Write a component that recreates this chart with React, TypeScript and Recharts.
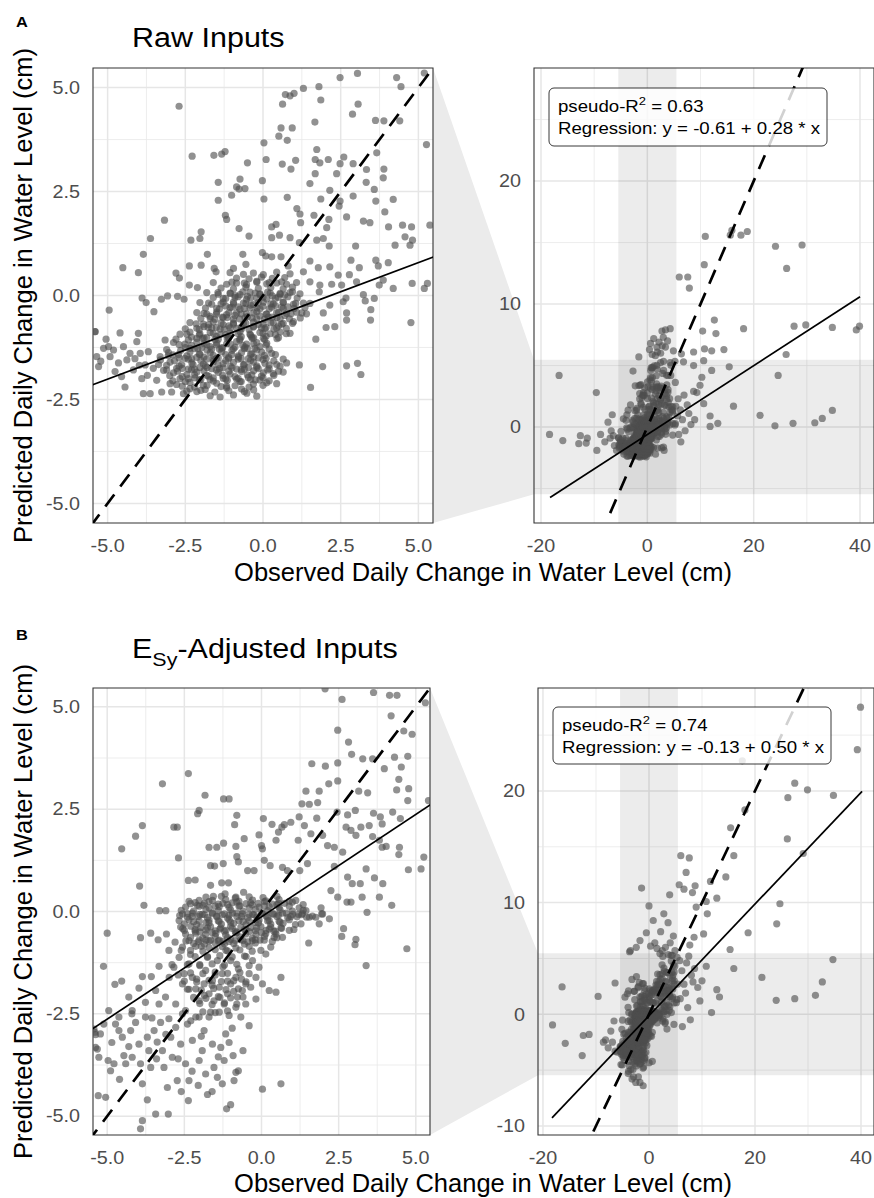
import React from 'react';
import { ScatterChart, Scatter, XAxis, YAxis, CartesianGrid, ReferenceArea } from 'recharts';

type Pair = [number, number];

// ---------------- DATA ----------------
// Row A (raw inputs): [observed, predicted] pairs inside the ±5.47 zoom window
const rawSparse: Pair[] = [
  [-2.70,4.55],[2.48,5.24],[3.04,5.34],[4.30,5.24],[5.19,5.35],[4.44,5.02],[5.26,3.63],[1.30,4.98],[1.80,5.02],[0.72,4.83],
  [0.87,4.80],[1.00,4.86],[0.63,4.60],[1.86,4.70],[3.06,4.60],[2.88,4.36],[3.62,4.21],[3.89,4.20],[4.40,4.20],[1.67,4.17],
  [0.58,4.03],[0.94,4.03],[0.51,3.83],[0.78,3.73],[0.03,3.67],[3.66,3.43],[-2.28,3.35],[-1.58,3.37],[-1.33,3.40],[-1.22,3.46],
  [1.73,3.51],[1.68,3.27],[1.83,3.19],[2.10,3.27],[2.60,3.33],[2.90,3.17],[0.10,3.27],[-0.50,3.19],[1.05,3.25],[0.62,3.16],
  [0.90,3.04],[2.48,3.17],[3.33,3.03],[3.89,3.04],[1.68,2.93],[2.37,2.93],[3.87,2.83],[-0.74,2.80],[-1.44,2.72],[-0.02,2.76],
  [-0.85,2.61],[-0.77,2.56],[-0.58,2.57],[1.51,2.69],[3.32,2.72],[2.15,2.53],[3.58,2.55],[-1.44,2.29],[-1.01,2.41],[0.03,2.32],
  [0.78,2.36],[1.86,2.32],[2.90,2.39],[3.63,2.27],[4.19,2.31],[2.48,2.27],[1.09,2.09],[2.45,2.15],[3.92,2.01],[-1.21,1.93],
  [-1.17,1.83],[-3.17,1.81],[-0.77,1.61],[-0.45,1.43],[1.19,1.96],[1.64,1.93],[2.12,1.83],[2.69,1.89],[3.23,1.79],[3.44,1.75],
  [1.21,1.75],[0.28,1.65],[0.42,1.71],[2.05,1.63],[4.04,1.65],[4.49,1.69],[4.78,1.65],[5.37,1.69],[-3.62,1.37],[-1.99,1.53],
  [-2.03,1.37],[-2.32,1.33],[0.53,1.45],[0.87,1.39],[0.28,1.39],[1.17,1.27],[1.73,1.33],[1.94,1.37],[2.13,1.19],[2.98,1.19],
  [4.25,1.21],[4.57,1.41],[4.81,1.33],[4.73,1.21],[-3.85,0.99],[-4.51,0.67],[-4.01,0.55],[-1.79,0.99],[-2.37,0.71],[-1.99,0.73],
  [-2.80,0.54],[-2.69,0.42],[-1.57,0.65],[-1.51,0.57],[-0.95,0.65],[-0.65,0.99],[-0.55,0.75],[-0.02,1.03],[0.09,0.95],[0.28,0.93],
  [0.58,0.93],[0.81,0.71],[1.51,0.83],[1.78,0.67],[2.15,0.69],[2.83,0.85],[2.42,0.49],[2.78,0.50],[3.10,0.67],[3.63,0.85],
  [3.71,0.71],[4.03,0.79],[1.30,0.57],[1.51,0.33],[1.83,0.25],[2.21,0.27],[2.53,0.25],[3.01,0.33],[3.87,0.37],[3.74,0.25],
  [4.19,0.17],[4.80,0.29],[5.19,0.17],[5.29,0.29],[3.23,0.02],[3.58,-0.07],[3.29,-0.13],[2.67,-0.06],[2.58,-0.15],[1.81,0.09],
  [1.51,-0.19],[2.15,-0.23],[1.94,-0.42],[2.69,-0.42],[3.47,-0.34],[2.69,-0.59],[3.46,-0.59],[4.76,-0.65],[2.03,-0.77],[2.31,-0.75],
  [1.70,-1.05],[1.17,-1.67],[1.92,-1.71],[2.69,-1.69],[3.04,-1.63],[3.15,-1.90],[1.53,-2.21],[-4.95,-0.35],[-3.89,-0.06],[-3.76,-0.17],
  [-3.51,-0.39],[-3.27,-0.09],[-3.07,-0.01],[-2.75,-0.02],[-2.54,-0.09],[-2.37,0.25],[-2.11,0.19],[-5.41,-0.87],[-4.60,-0.90],
];

const rawTail: Pair[] = [
  [-5.40,-0.87],[-5.35,-1.47],[-5.29,-1.71],[-5.13,-1.27],[-4.97,-1.23],[-4.92,-1.47],[-4.81,-1.31],[-4.76,-1.83],[-4.49,-1.23],[-4.44,-2.20],
  [-4.38,-1.55],[-4.28,-1.39],[-4.17,-1.79],[-4.06,-1.11],[-4.01,-0.91],[-3.95,-1.39],[-3.90,-2.00],[-3.85,-2.36],[-3.79,-1.67],[-3.69,-1.35],
  [-3.63,-2.36],[-3.53,-1.75],[-3.42,-2.04],[-3.31,-1.47],[-3.26,-2.32],[-3.15,-1.07],[-3.10,-1.79],[-2.99,-2.12],[-2.94,-2.32],
  [-5.22,-1.58],[-4.65,-1.62],[-4.12,-1.52],[-3.72,-1.92],[-3.36,-1.66],[-3.05,-1.45],[-5.05,-1.05],[-4.55,-1.95],[-3.98,-1.68],
];

const rawCore: Pair[] = [
  [-2.56,-2.36],[-2.13,-2.31],[-1.70,-2.41],[-1.38,-2.44],[-0.95,-2.39],[-0.52,-2.35],[-0.20,-2.42],
  [-2.78,-2.14],[-2.35,-2.09],[-1.92,-2.16],[-1.49,-2.11],[-1.17,-2.18],[-0.74,-2.07],[-0.31,-2.13],[0.12,-2.10],[0.44,-2.12],
  [-2.88,-1.86],[-2.45,-1.90],[-2.13,-1.84],[-1.81,-1.92],[-1.44,-1.85],[-1.06,-1.89],[-0.69,-1.83],[-0.36,-1.91],[0.01,-1.86],[0.33,-1.88],[0.65,-1.84],
  [-2.99,-1.60],[-2.62,-1.66],[-2.29,-1.62],[-1.92,-1.65],[-1.60,-1.59],[-1.28,-1.64],[-0.95,-1.61],[-0.63,-1.67],[-0.31,-1.60],[0.06,-1.63],[0.44,-1.66],[0.76,-1.62],
  [-3.04,-1.37],[-2.72,-1.42],[-2.35,-1.36],[-2.03,-1.41],[-1.70,-1.38],[-1.33,-1.35],[-1.01,-1.42],[-0.69,-1.37],[-0.36,-1.40],[-0.04,-1.36],[0.28,-1.39],
  [-2.88,-1.13],[-2.51,-1.17],[-2.13,-1.12],[-1.81,-1.18],[-1.49,-1.14],[-1.17,-1.16],[-0.85,-1.11],[-0.53,-1.17],[-0.20,-1.13],[0.12,-1.15],
  [-2.67,-0.93],[-2.35,-0.88],[-2.03,-0.92],[-1.70,-0.89],[-1.38,-0.94],[-1.06,-0.90],[-0.74,-0.87],[-0.42,-0.93],[-0.10,-0.89],[0.23,-0.92],[0.55,-0.88],[0.87,-0.91],
  [-2.35,-0.65],[-1.92,-0.69],[-1.60,-0.64],[-1.28,-0.70],[-0.95,-0.66],[-0.63,-0.68],[-0.31,-0.64],[0.01,-0.69],[0.33,-0.65],[0.65,-0.67],[0.98,-0.63],
  [-2.13,-0.41],[-1.81,-0.45],[-1.49,-0.40],[-1.17,-0.46],[-0.85,-0.42],[-0.53,-0.44],[-0.20,-0.39],[0.12,-0.45],[0.44,-0.41],[0.76,-0.43],[1.08,-0.40],[1.40,-0.44],
  [-2.03,-0.17],[-1.65,-0.21],[-1.28,-0.16],[-0.95,-0.20],[-0.63,-0.18],[-0.31,-0.22],[0.01,-0.16],[0.33,-0.20],[0.65,-0.17],[0.98,-0.21],[1.30,-0.18],
  [-1.81,0.07],[-1.44,0.03],[-1.06,0.06],[-0.74,0.02],[-0.42,0.08],[-0.10,0.04],[0.23,0.06],[0.55,0.03],[0.87,0.07],[1.19,0.04],
  [-1.60,0.31],[-1.17,0.27],[-0.85,0.30],[-0.53,0.26],[-0.20,0.32],[0.12,0.28],[0.44,0.30],[0.76,0.27],[1.08,0.31],
  [-1.06,0.55],[-0.63,0.51],[-0.31,0.54],[0.01,0.50],[0.44,0.56],[0.87,0.52],
  [-2.35,-2.24],[-1.86,-2.26],[-1.17,-2.22],[-0.69,-2.25],
  [-2.67,-2.00],[-2.19,-1.98],[-1.70,-2.02],[-1.28,-1.99],[-0.85,-2.01],[-0.47,-1.97],[-0.10,-2.03],
  [-2.78,-1.75],[-2.40,-1.77],[-2.03,-1.73],[-1.65,-1.76],[-1.28,-1.74],[-0.85,-1.77],[-0.47,-1.73],[-0.15,-1.76],
  [-2.51,-1.51],[-2.13,-1.49],[-1.81,-1.53],[-1.44,-1.50],[-1.11,-1.52],[-0.79,-1.48],[-0.47,-1.52],[-0.15,-1.50],
  [-2.35,-1.27],[-1.97,-1.25],[-1.65,-1.29],[-1.33,-1.26],[-0.95,-1.28],[-0.58,-1.24],[-0.26,-1.27],
  [-2.13,-1.03],[-1.81,-1.01],[-1.44,-1.05],[-1.11,-1.02],[-0.74,-1.04],[-0.36,-1.00],[0.01,-1.03],
  [-2.13,-0.79],[-1.76,-0.77],[-1.38,-0.81],[-1.06,-0.78],[-0.69,-0.80],[-0.31,-0.76],[0.06,-0.80],[0.44,-0.78],
  [-1.70,-0.55],[-1.28,-0.53],[-0.95,-0.57],[-0.58,-0.54],[-0.20,-0.56],[0.17,-0.52],[0.55,-0.56],
  [-1.49,-0.31],[-1.06,-0.29],[-0.74,-0.33],[-0.42,-0.30],[-0.10,-0.32],[0.28,-0.28],[0.65,-0.31],
  [-1.28,-0.07],[-0.90,-0.05],[-0.53,-0.09],[-0.20,-0.06],[0.12,-0.08],[0.49,-0.04],
];

const rawCoreExtra: Pair[] = [
  [-2.45,-2.30],[-2.00,-2.28],[-1.55,-2.32],[-1.10,-2.29],[-0.60,-2.31],[-0.30,-2.27],
  [-2.90,-2.05],[-2.50,-2.07],[-2.05,-2.03],[-1.60,-2.06],[-1.15,-2.04],[-0.70,-2.07],[-0.25,-2.03],[0.20,-2.05],
  [-3.20,-1.80],[-2.75,-1.82],[-2.30,-1.78],[-1.90,-1.81],[-1.50,-1.79],[-1.10,-1.82],[-0.70,-1.78],[-0.30,-1.81],[0.15,-1.79],[0.50,-1.82],
  [-3.30,-1.55],[-2.85,-1.57],[-2.40,-1.53],[-2.00,-1.56],[-1.60,-1.54],[-1.20,-1.57],[-0.80,-1.53],[-0.40,-1.56],[0.00,-1.54],[0.35,-1.57],[0.65,-1.53],
  [-3.10,-1.30],[-2.65,-1.32],[-2.20,-1.28],[-1.80,-1.31],[-1.40,-1.29],[-1.00,-1.32],[-0.60,-1.28],[-0.20,-1.31],[0.20,-1.29],
  [-2.80,-1.05],[-2.40,-1.07],[-1.95,-1.03],[-1.55,-1.06],[-1.15,-1.04],[-0.75,-1.07],[-0.35,-1.03],[0.05,-1.06],[0.45,-1.04],
  [-2.50,-0.80],[-2.05,-0.82],[-1.65,-0.78],[-1.25,-0.81],[-0.85,-0.79],[-0.45,-0.82],[-0.05,-0.78],[0.35,-0.81],[0.75,-0.79],
  [-2.00,-0.55],[-1.55,-0.57],[-1.15,-0.53],[-0.75,-0.56],[-0.35,-0.54],[0.05,-0.57],[0.45,-0.53],[0.85,-0.56],[1.20,-0.54],
  [-1.85,-0.30],[-1.40,-0.32],[-1.00,-0.28],[-0.60,-0.31],[-0.20,-0.29],[0.20,-0.32],[0.60,-0.28],[1.00,-0.31],[1.35,-0.29],
  [-1.60,-0.05],[-1.20,-0.07],[-0.80,-0.03],[-0.40,-0.06],[0.00,-0.04],[0.40,-0.07],[0.80,-0.03],[1.10,-0.06],
  [-1.35,0.18],[-0.95,0.16],[-0.55,0.20],[-0.15,0.17],[0.25,0.19],[0.65,0.16],[0.95,0.20],
  [-0.85,0.42],[-0.45,0.40],[-0.05,0.44],[0.30,0.41],[0.70,0.43],
];

const rawCoreFill: Pair[] = [
  [-2.60,-2.18],[-2.20,-2.20],[-1.80,-2.16],[-1.35,-2.19],[-0.90,-2.17],[-0.45,-2.20],[0.00,-2.16],
  [-3.00,-1.93],[-2.60,-1.95],[-2.20,-1.91],[-1.75,-1.94],[-1.30,-1.92],[-0.90,-1.95],[-0.50,-1.91],[-0.05,-1.94],[0.35,-1.92],
  [-3.10,-1.68],[-2.70,-1.70],[-2.25,-1.66],[-1.85,-1.69],[-1.45,-1.67],[-1.05,-1.70],[-0.60,-1.66],[-0.20,-1.69],[0.20,-1.67],[0.55,-1.70],
  [-2.90,-1.43],[-2.45,-1.45],[-2.05,-1.41],[-1.60,-1.44],[-1.20,-1.42],[-0.80,-1.45],[-0.40,-1.41],[0.05,-1.44],[0.40,-1.42],
  [-2.70,-1.18],[-2.30,-1.20],[-1.90,-1.16],[-1.50,-1.19],[-1.05,-1.17],[-0.65,-1.20],[-0.30,-1.16],[0.10,-1.19],
  [-2.45,-0.93],[-2.05,-0.95],[-1.60,-0.91],[-1.20,-0.94],[-0.80,-0.92],[-0.40,-0.95],[0.00,-0.91],[0.40,-0.94],[0.75,-0.92],
  [-2.15,-0.68],[-1.75,-0.70],[-1.35,-0.66],[-0.95,-0.69],[-0.55,-0.67],[-0.15,-0.70],[0.25,-0.66],[0.60,-0.69],[0.95,-0.67],
  [-1.90,-0.43],[-1.50,-0.45],[-1.10,-0.41],[-0.70,-0.44],[-0.30,-0.42],[0.10,-0.45],[0.50,-0.41],[0.90,-0.44],[1.25,-0.42],
  [-1.75,-0.18],[-1.35,-0.20],[-0.95,-0.16],[-0.55,-0.19],[-0.15,-0.17],[0.25,-0.20],[0.65,-0.16],[1.05,-0.19],
  [-1.45,0.07],[-1.05,0.05],[-0.65,0.09],[-0.25,0.06],[0.15,0.08],[0.55,0.05],[0.95,0.09],
  [-1.00,0.32],[-0.60,0.30],[-0.20,0.34],[0.20,0.31],[0.60,0.33],
];

const rawCoreDense: Pair[] = [
  [-2.40,-2.00],[-2.00,-2.02],[-1.60,-1.98],[-1.20,-2.01],[-0.80,-1.99],[-0.40,-2.02],[0.00,-1.98],
  [-2.60,-1.75],[-2.20,-1.77],[-1.80,-1.73],[-1.40,-1.76],[-1.00,-1.74],[-0.60,-1.77],[-0.20,-1.73],[0.20,-1.76],
  [-2.70,-1.50],[-2.30,-1.52],[-1.90,-1.48],[-1.50,-1.51],[-1.10,-1.49],[-0.70,-1.52],[-0.30,-1.48],[0.10,-1.51],
  [-2.50,-1.25],[-2.10,-1.27],[-1.70,-1.23],[-1.30,-1.26],[-0.90,-1.24],[-0.50,-1.27],[-0.10,-1.23],
  [-2.30,-1.00],[-1.90,-1.02],[-1.50,-0.98],[-1.10,-1.01],[-0.70,-0.99],[-0.30,-1.02],[0.10,-0.98],[0.50,-1.01],
  [-1.90,-0.75],[-1.50,-0.77],[-1.10,-0.73],[-0.70,-0.76],[-0.30,-0.74],[0.10,-0.77],[0.50,-0.73],
  [-1.70,-0.50],[-1.30,-0.52],[-0.90,-0.48],[-0.50,-0.51],[-0.10,-0.49],[0.30,-0.52],[0.70,-0.48],
  [-1.20,-0.25],[-0.80,-0.27],[-0.40,-0.23],[0.00,-0.26],[0.40,-0.24],[0.80,-0.27],
  [-0.90,0.00],[-0.50,-0.02],[-0.10,0.02],[0.30,-0.01],[0.70,0.01],
];

// Row A points outside the zoom window (only visible in the full-range panel)
const rawOuter: Pair[] = [
  [10.9,15.5],[15.9,16.0],[15.6,15.6],[17.6,15.6],[18.8,15.9],[24.1,14.7],[29.1,14.8],[26.2,12.9],[10.7,13.2],[6.0,12.2],
  [7.6,12.2],[7.9,11.3],[12.6,8.7],[10.4,7.8],[12.9,7.6],[18.1,8.0],[27.6,8.2],[29.8,8.3],[34.8,8.1],[39.3,7.9],
  [39.9,8.2],[2.75,7.8],[3.4,7.9],[4.3,8.0],[1.8,6.5],[3.4,6.5],[4.9,6.2],[10.75,6.35],[12.1,6.2],[14.4,6.3],
  [8.7,6.1],[26.1,5.9],[-1.6,5.7],[1.5,5.8],[6.4,5.95],[6.8,5.3],[10.6,5.4],[8.7,5.0],[12.1,4.6],[15.4,4.9],
  [10.25,4.05],[9.9,3.4],[24.6,4.2],[8.7,2.9],[9.3,2.8],[16.2,1.7],[21.2,0.95],[24.0,0.1],[27.4,0.3],[31.5,0.35],
  [32.9,0.7],[34.8,1.35],[11.8,0.9],[13.25,0.3],[11.8,0.05],[10.6,1.9],[-16.6,4.2],[-18.4,-0.6],[-15.9,-1.1],[-12.6,-0.7],
  [-11.3,-0.9],[-12.9,-1.35],[-11.5,-1.3],[-9.6,2.8],[-9.5,-1.9],[-8.8,-0.6],[-7.4,0.4],[-6.6,1.0],
  [0.6,6.8],[1.2,7.2],[2.2,6.9],[2.5,6.0],[3.0,7.3],[0.9,5.9],[1.9,6.1],[3.8,7.0],[0.4,6.3],[2.8,6.6],
  [5.8,2.3],[6.2,1.4],[6.6,0.6],[7.1,-0.3],[5.9,-0.6],[7.5,1.8],[8.2,0.2],[6.9,2.6],[5.7,0.9],[6.3,-1.2],[7.8,1.1],[8.9,0.6],
  [-7.0,-0.9],[-6.2,-1.5],[-8.0,-1.2],[-6.8,-0.3],[-5.8,-1.9],[-6.4,-0.7],
];

// Row B (ESy-adjusted inputs)
const esySparse: Pair[] = [
  [2.06,5.44],[2.61,5.18],[3.63,5.35],[4.15,5.28],[4.39,5.28],[5.31,5.10],[4.20,4.78],[2.47,4.43],[4.61,4.41],[4.88,4.33],
  [2.82,4.14],[2.92,3.84],[3.28,3.73],[3.60,3.73],[4.31,3.77],[4.74,3.79],[1.63,3.61],[2.07,3.55],[2.47,3.63],[3.98,3.49],
  [4.53,3.53],[-2.37,3.37],[-3.21,3.12],[2.18,3.12],[2.47,3.19],[4.45,3.23],[1.44,2.94],[1.87,2.94],[3.15,2.94],[3.44,2.90],
  [4.38,2.97],[4.77,3.00],[-1.83,2.84],[-1.23,2.75],[-1.05,2.75],[4.74,2.71],[1.31,2.63],[1.55,2.62],[1.82,2.66],[-2.02,2.47],
  [-2.07,2.39],[-0.80,2.35],[2.45,2.43],[2.79,2.36],[3.04,2.47],[3.63,2.40],[3.85,2.31],[4.25,2.43],[5.41,2.71],[4.50,2.27],
  [1.79,2.28],[1.22,2.31],[0.06,2.27],[0.34,2.13],[0.66,2.06],[0.74,2.12],[0.95,2.18],[-3.86,2.10],[-4.08,1.84],[-2.84,2.06],
  [-2.73,2.06],[-0.87,2.12],[2.74,2.06],[2.90,1.98],[3.22,2.06],[3.49,2.10],[3.91,2.14],[3.06,1.86],[3.60,1.83],[3.82,1.74],
  [3.91,1.57],[4.04,1.59],[1.39,2.10],[1.60,1.90],[1.98,1.86],[2.14,1.61],[2.36,1.57],[1.19,1.74],[0.55,1.94],[0.47,1.74],
  [-0.08,1.87],[0.00,1.61],[0.03,1.53],[-0.56,1.78],[-4.53,1.53],[-2.69,1.31],[-1.70,1.57],[-1.45,1.57],[-1.23,1.67],[-0.83,1.59],
  [-0.80,1.34],[-1.65,1.12],[-1.52,1.11],[-1.24,1.17],[-0.75,1.21],[-0.45,1.00],[-0.24,1.00],[0.09,1.25],[0.28,1.12],[0.68,1.08],
  [0.84,1.00],[1.24,1.00],[1.49,1.17],[2.36,1.10],[2.63,1.45],[3.39,1.04],[3.66,0.82],[3.93,0.68],[4.47,1.57],[4.45,1.39],
  [5.26,1.33],[4.76,1.02],[5.17,1.04],[2.79,0.84],[2.94,0.68],[3.20,0.68],[2.25,0.51],[2.47,0.35],[2.77,0.23],[2.90,0.23],
  [3.26,0.35],[3.82,0.35],[4.22,0.15],[3.42,-0.02],[2.66,-0.42],[2.60,-0.61],[3.06,-0.68],[3.03,-0.81],[1.53,-0.77],[3.39,-1.32],
  [4.71,-0.91],[1.93,0.09],[2.20,-0.18],[1.95,-0.06],[1.46,-0.14],[1.35,0.17],[-3.95,0.62],[-3.81,0.15],[-3.30,0.02],[-3.10,0.02],
  [-2.37,0.76],[-2.15,0.77],[-2.35,0.25],[-2.08,0.15],[-1.65,0.64],[-1.56,0.37],[-1.29,0.70],[-1.07,0.70],[-1.18,0.43],[-0.83,0.35],
  [-0.58,0.47],[-5.00,-0.53],[-3.92,-0.64],[-3.59,-0.53],[-3.35,-0.69],[-3.08,-0.55],[-5.12,-1.34],[-4.75,-1.78],[-4.53,-1.70],[-3.86,-1.59],
  [-3.57,-1.59],[-3.97,-1.87],[-2.99,-1.61],[-3.32,-1.34],
];

const esyLower: Pair[] = [
  [-5.40,-2.95],[-5.38,-3.01],[-5.32,-3.36],[-5.27,-3.56],[-5.29,-4.50],[-5.11,-2.75],[-5.05,-4.54],[-4.97,-3.64],[-4.89,-3.89],[-4.78,-3.72],
  [-4.73,-2.75],[-4.62,-2.91],[-4.51,-3.07],[-4.46,-3.52],[-4.40,-3.72],[-4.24,-2.91],[-4.19,-3.56],[-4.08,-2.71],[-3.97,-3.24],[-3.92,-3.72],
  [-3.86,-4.21],[-3.86,-5.11],[-3.92,-5.31],[-3.76,-2.58],[-3.70,-3.07],[-3.65,-3.40],[-3.59,-3.81],[-3.48,-2.91],[-3.43,-4.95],[-3.38,-3.19],
  [-3.32,-2.26],[-3.27,-2.71],[-3.21,-3.40],[-3.16,-3.81],[-3.05,-4.30],[-3.02,-4.95],[-3.00,-2.62],[-2.94,-3.07],[-2.89,-3.56],[-2.78,-2.83],
  [-2.73,-4.13],[-2.62,-3.24],[-2.56,-2.50],[-2.46,-3.72],[-2.40,-2.75],[-2.37,-4.62],[-2.35,-4.13],[-2.24,-3.15],[-2.13,-2.58],[-2.02,-3.64],
  [-1.92,-3.40],[-1.86,-2.91],[-1.81,-3.97],[-1.75,-4.47],[-1.70,-2.58],[-1.59,-3.24],[-1.54,-3.81],[-1.43,-4.05],[-1.32,-3.32],[-1.27,-4.21],
  [-1.21,-3.64],[-1.16,-2.99],[-1.13,-4.82],[-1.00,-4.72],[-0.92,-3.52],[-0.83,-3.93],[-0.75,-3.89],[-0.89,-4.13],[-0.67,-2.58],[-0.51,-2.26],
  [-0.40,-2.79],[0.03,-4.34],[0.63,-4.21],[-0.18,-2.14],[0.03,-1.77],[0.25,-1.93],[0.47,-1.97],[0.63,-1.61],[-5.38,-3.32],[-5.22,-2.99],
  [-5.43,-2.87],[-2.84,-1.36],[-2.67,-1.12],[-2.56,-1.77],[-2.51,-1.52],[-2.35,-1.28],[-2.24,-1.61],[-2.13,-1.89],[-2.02,-2.18],[-1.86,-1.77],
  [-1.81,-1.44],[-1.70,-2.01],[-1.59,-1.69],[-1.54,-2.18],[-1.43,-1.20],[-1.37,-1.85],[-1.27,-1.52],[-1.21,-2.26],[-1.10,-2.01],[-1.00,-1.77],
  [-0.83,-1.61],[-0.78,-2.09],[-0.62,-1.93],[-0.51,-1.77],[-0.40,-1.52],[-0.29,-1.20],[-0.18,-1.61],[-0.08,-1.36],[-0.02,-0.95],[0.14,-1.04],
  [0.30,-0.87],[0.41,-0.63],[-3.11,-2.09],[-2.78,-2.26],[-2.46,-2.42],[-2.29,-2.67],[-2.02,-2.58],[-1.65,-2.46],[-1.37,-2.46],[-1.05,-2.54],
  [-0.83,-2.34],[-4.30,-2.09],[-4.19,-2.42],[-3.43,-1.93],[-3.76,-2.22],[-4.95,-2.42],[-4.62,-2.58],
  [-2.60,-0.95],[-2.30,-1.05],[-2.00,-1.30],[-1.75,-1.10],[-1.50,-1.55],[-1.25,-1.35],[-1.00,-1.20],[-0.75,-1.40],[-0.50,-1.10],[-2.40,-1.90],
  [-2.10,-1.65],[-1.85,-2.05],[-1.60,-1.80],[-1.35,-2.10],[-1.10,-1.70],[-0.90,-1.95],[-0.65,-1.65],[-0.35,-1.85],[-2.70,-1.55],[-2.90,-1.30],
  [-3.00,-0.95],[-2.80,-0.75],[-1.95,-0.85],[-1.15,-0.95],
  [-4.85,-3.20],[-4.30,-3.30],[-3.55,-2.60],[-3.10,-3.00],[-2.70,-3.60],[-2.25,-3.90],[-1.95,-3.05],[-1.40,-3.55],[-1.05,-3.20],[-0.60,-3.40],
  [-4.60,-4.10],[-3.70,-4.60],[-2.60,-4.40],[-1.60,-4.40],[-4.20,-2.50],[-3.40,-3.60],[-2.05,-4.25],[-0.95,-2.85],
];

const esyCore: Pair[] = [
  [-2.02,0.27],[-1.59,0.27],[-1.16,0.29],[-0.73,0.25],[-0.29,0.28],[0.14,0.26],[0.57,0.29],[0.90,0.25],
  [-2.46,0.11],[-2.02,0.13],[-1.70,0.09],[-1.37,0.12],[-1.05,0.10],[-0.73,0.13],[-0.40,0.09],[-0.08,0.11],[0.25,0.12],[0.57,0.10],[0.90,0.13],[1.22,0.09],
  [-2.56,-0.06],[-2.24,-0.04],[-1.92,-0.07],[-1.59,-0.05],[-1.27,-0.08],[-0.94,-0.04],[-0.62,-0.06],[-0.29,-0.07],[0.03,-0.05],[0.36,-0.06],[0.68,-0.04],[1.01,-0.07],[1.33,-0.05],
  [-2.67,-0.22],[-2.35,-0.20],[-2.02,-0.23],[-1.70,-0.21],[-1.37,-0.24],[-1.05,-0.20],[-0.73,-0.22],[-0.40,-0.23],[-0.08,-0.21],[0.25,-0.22],[0.57,-0.24],[0.90,-0.20],
  [-2.62,-0.38],[-2.29,-0.36],[-1.97,-0.39],[-1.65,-0.37],[-1.32,-0.40],[-1.00,-0.36],[-0.67,-0.38],[-0.35,-0.39],[-0.02,-0.37],[0.30,-0.38],[0.63,-0.40],
  [-2.46,-0.55],[-2.13,-0.53],[-1.81,-0.56],[-1.48,-0.54],[-1.16,-0.57],[-0.83,-0.53],[-0.51,-0.55],[-0.18,-0.56],[0.14,-0.54],[0.47,-0.55],
  [-2.35,-0.71],[-2.02,-0.69],[-1.70,-0.72],[-1.37,-0.70],[-1.05,-0.73],[-0.67,-0.69],[-0.29,-0.71],[0.09,-0.70],
  [-2.56,-0.87],[-2.13,-0.85],[-1.70,-0.88],[-1.27,-0.86],[-0.83,-0.89],[-0.40,-0.85],
  [1.11,0.27],[1.44,0.02],[1.55,-0.14],[1.28,-0.30],[0.90,-0.46],[0.68,-0.63],[1.76,-0.14],[1.98,-0.06],[1.87,-0.30],
  [-2.30,0.19],[-1.85,0.20],[-1.40,0.18],[-0.95,0.21],[-0.50,0.19],[-0.10,0.20],[0.35,0.18],[0.75,0.20],
  [-2.40,-0.14],[-2.05,-0.12],[-1.75,-0.15],[-1.45,-0.13],[-1.10,-0.16],[-0.80,-0.12],[-0.45,-0.15],[-0.15,-0.13],[0.20,-0.14],[0.50,-0.12],[0.85,-0.15],[1.15,-0.13],
  [-2.50,-0.46],[-2.15,-0.48],[-1.80,-0.45],[-1.50,-0.47],[-1.15,-0.46],[-0.85,-0.48],[-0.50,-0.45],[-0.20,-0.47],[0.15,-0.46],[0.45,-0.48],
  [-2.20,-0.78],[-1.85,-0.80],[-1.50,-0.77],[-1.20,-0.79],[-0.90,-0.78],[-0.55,-0.80],[-0.20,-0.77],
];

const esyCoreExtra: Pair[] = [
  [-1.80,0.35],[-1.30,0.37],[-0.85,0.33],[-0.40,0.36],[0.05,0.34],[0.50,0.37],
  [-2.60,0.03],[-2.20,0.01],[-1.80,0.05],[-1.40,0.02],[-1.00,0.04],[-0.60,0.01],[-0.20,0.05],[0.20,0.02],[0.60,0.04],[1.00,0.01],[1.35,0.03],
  [-2.50,-0.30],[-2.10,-0.32],[-1.70,-0.28],[-1.30,-0.31],[-0.90,-0.29],[-0.50,-0.32],[-0.10,-0.28],[0.30,-0.31],[0.70,-0.29],[1.10,-0.32],
  [-2.30,-0.63],[-1.90,-0.65],[-1.50,-0.61],[-1.10,-0.64],[-0.70,-0.62],[-0.30,-0.65],[0.10,-0.61],[0.50,-0.64],
  [-2.30,-0.95],[-1.90,-0.97],[-1.50,-0.93],[-1.10,-0.96],[-0.70,-0.94],[-0.30,-0.97],
  [-2.40,-1.30],[-2.00,-1.32],[-1.60,-1.28],[-1.20,-1.31],[-0.80,-1.29],[-0.40,-1.32],
  [-2.50,-1.70],[-2.10,-1.72],[-1.70,-1.68],[-1.30,-1.71],[-0.90,-1.69],[-0.50,-1.72],
  [-2.20,-2.10],[-1.80,-2.12],[-1.40,-2.08],[-1.00,-2.11],[-0.60,-2.09],
  [-1.90,-2.45],[-1.50,-2.47],[-1.10,-2.43],
];

const esyCoreFill: Pair[] = [
  [-2.15,0.22],[-1.70,0.24],[-1.25,0.20],[-0.80,0.23],[-0.35,0.21],[0.10,0.24],[0.55,0.20],[1.00,0.23],
  [-2.65,-0.10],[-2.25,-0.12],[-1.85,-0.08],[-1.45,-0.11],[-1.05,-0.09],[-0.65,-0.12],[-0.25,-0.08],[0.15,-0.11],[0.55,-0.09],[0.95,-0.12],[1.30,-0.08],[1.65,-0.11],
  [-2.55,-0.42],[-2.15,-0.44],[-1.75,-0.40],[-1.35,-0.43],[-0.95,-0.41],[-0.55,-0.44],[-0.15,-0.40],[0.25,-0.43],[0.65,-0.41],[1.05,-0.44],
  [-2.45,-0.72],[-2.05,-0.74],[-1.65,-0.70],[-1.25,-0.73],[-0.85,-0.71],[-0.45,-0.74],[-0.05,-0.70],[0.35,-0.73],
  [-2.15,-1.10],[-1.75,-1.12],[-1.35,-1.08],[-0.95,-1.11],[-0.55,-1.09],
  [-2.30,-1.50],[-1.90,-1.52],[-1.50,-1.48],[-1.10,-1.51],[-0.70,-1.49],
  [-2.35,-1.90],[-1.95,-1.92],[-1.55,-1.88],[-1.15,-1.91],[-0.75,-1.89],
  [-2.00,-2.25],[-1.60,-2.27],[-1.20,-2.23],[-0.80,-2.26],
];

const esyCoreDense: Pair[] = [
  [-1.90,0.15],[-1.50,0.13],[-1.10,0.17],[-0.70,0.14],[-0.30,0.16],[0.10,0.13],[0.50,0.17],
  [-2.40,-0.05],[-2.00,-0.07],[-1.60,-0.03],[-1.20,-0.06],[-0.80,-0.04],[-0.40,-0.07],[0.00,-0.03],[0.40,-0.06],[0.80,-0.04],[1.20,-0.07],
  [-2.20,-0.25],[-1.80,-0.27],[-1.40,-0.23],[-1.00,-0.26],[-0.60,-0.24],[-0.20,-0.27],[0.20,-0.23],[0.60,-0.26],
  [-2.00,-0.50],[-1.60,-0.52],[-1.20,-0.48],[-0.80,-0.51],[-0.40,-0.49],[0.00,-0.52],[0.40,-0.48],
  [-1.80,-0.70],[-1.40,-0.72],[-1.00,-0.68],[-0.60,-0.71],[-0.20,-0.69],
];

const esyOuter: Pair[] = [
  [39.9,27.5],[39.3,23.7],[17.6,22.7],[27.5,20.7],[29.9,20.1],[34.8,19.6],[26.2,19.4],[18.1,18.3],[15.4,16.7],[26.1,15.7],
  [16.0,14.2],[29.1,14.4],[6.0,14.2],[7.6,14.0],[7.0,12.7],[5.7,11.6],[8.7,11.5],[8.2,10.9],[6.6,11.2],[11.6,11.9],
  [14.5,12.3],[12.8,10.4],[-1.4,11.3],[3.9,10.7],[10.8,10.1],[8.9,9.6],[11.0,9.0],[0.0,9.7],[2.8,9.0],[0.8,8.4],
  [3.6,8.2],[24.7,9.9],[24.1,8.1],[18.7,7.3],[10.3,7.2],[8.5,6.9],[7.7,6.2],[-1.7,6.6],[1.1,6.4],[-3.5,5.7],
  [4.0,6.4],[15.3,5.8],[34.7,4.9],[16.0,4.1],[10.8,4.3],[21.3,3.3],[32.7,2.9],[31.4,1.7],[27.5,1.4],[24.0,1.25],
  [12.8,2.2],[13.3,1.55],[11.8,0.15],[10.0,3.0],[-16.4,2.45],[-18.2,-0.95],[-15.8,-2.6],[-12.6,-3.7],[-12.4,-1.9],[-11.3,-1.8],
  [-9.6,1.6],[-6.4,2.8],[-8.2,-2.3],[-7.2,-1.5],[-6.6,-0.6],[-8.6,-2.5],[-7.7,-3.0],[-6.9,-2.5],[-6.0,-3.4],[-6.4,-3.3],
  [-3.67,5.6],[-3.2,-5.8],[-2.5,-6.1],[-1.7,-6.1],[-2.0,-5.6],[-1.1,-6.4],[-2.9,-5.6],
  [6.2,3.9],[7.1,4.6],[6.6,2.7],[8.0,3.5],[9.2,2.4],[7.5,5.2],[5.8,4.8],[8.6,4.1],[6.9,1.9],[9.6,1.2],
  [7.3,0.6],[5.9,1.4],[8.3,2.9],[7.8,-0.5],[6.3,-1.1],
  [2.2,7.4],[1.5,5.9],[3.1,6.0],[-0.5,7.3],[4.6,7.0],[-2.4,6.0],[0.3,6.1],[2.5,5.7],[4.9,5.7],
];

const rawPoints: Pair[] = [...rawSparse, ...rawTail, ...rawCore, ...rawCoreExtra, ...rawCoreFill, ...rawCoreDense, ...rawOuter];
const esyPoints: Pair[] = [...esySparse, ...esyLower, ...esyCore, ...esyCoreExtra, ...esyCoreFill, ...esyCoreDense, ...esyOuter];

// Fits (from the annotation labels)
const rawFit = { intercept: -0.61, slope: 0.28, r2: '0.63' };
const esyFit = { intercept: -0.13, slope: 0.5, r2: '0.74' };
const rawFitRange: [number, number] = [-18.3, 40.0];
const esyFitRange: [number, number] = [-18.3, 40.2];
const rawDiagRange: [number, number] = [-7.0, 32];
const esyDiagRange: [number, number] = [-10.5, 32];

// Axes
const zoomTicks = [-5, -2.5, 0, 2.5, 5];
const zoomMinor = [-3.75, -1.25, 1.25, 3.75];
const fullXTicks = [-20, 0, 20, 40];
const fullXMinor = [-10, 10, 30];
const rawFullYTicks = [0, 10, 20];
const esyFullYTicks = [-10, 0, 10, 20];
const fullYMinor = [-5, 5, 15, 25];

const rawZoomDomain: [number, number] = [-5.47, 5.47];
const esyZoomDomain: [number, number] = [-5.46, 5.46];
const rawFullX: [number, number] = [-21.32, 42.63];
const rawFullY: [number, number] = [-7.8, 29.19];
const esyFullX: [number, number] = [-20.94, 42.45];
const esyFullY: [number, number] = [-10.81, 29.22];
const rawZoomHalf = 5.47;
const esyZoomHalf = 5.46;

// ---------------- STYLE / LAYOUT ----------------
const FONT = '"Liberation Sans", Arial, Helvetica, sans-serif';
const STRETCH = 1.13;
const TICK_FS = 17.5;
const X_AXIS_H = 40;

type Rect = { x0: number; x1: number; y0: number; y1: number };
type Frame = { left: number; top: number; width: number; height: number };

const aLeftPlot: Rect = { x0: 93, x1: 433, y0: 68, y1: 523 };
const aRightPlot: Rect = { x0: 534, x1: 874, y0: 68, y1: 523 };
const bLeftPlot: Rect = { x0: 93, x1: 430, y0: 688, y1: 1135 };
const bRightPlot: Rect = { x0: 538, x1: 874, y0: 688, y1: 1135 };

function SText(props: any) {
  const { x, y, anchor = 'start', size, fill = '#000', weight, stretch = STRETCH, rotate, children } = props;
  let t = `translate(${x},${y})`;
  if (rotate) t += ` rotate(${rotate})`;
  if (stretch !== 1) t += ` scale(${stretch},1)`;
  return (
    <text transform={t} textAnchor={anchor} fontSize={size} fill={fill} fontWeight={weight} fontFamily={FONT}>
      {children}
    </text>
  );
}

const Dot = (p: any) => <circle cx={p.cx} cy={p.cy} r={3.6} fill="#4d4d4d" fillOpacity={0.62} />;
const NoShape = () => <g />;

function toXY(list: Pair[]) {
  return list.map(([x, y]) => ({ x, y }));
}

function Panel(props: any) {
  const { frame, plot, xDomain, yDomain, xTicks, xMinor, yTicks, yMinor, fmt, points, fit, fitRange, diagRange, band } = props as {
    frame: Frame; plot: Rect; xDomain: [number, number]; yDomain: [number, number]; xTicks: number[]; xMinor: number[];
    yTicks: number[]; yMinor: number[]; fmt: (v: number) => string; points: Pair[]; fit: any; fitRange: [number, number];
    diagRange: [number, number]; band?: number;
  };
  const margin = {
    top: plot.y0 - frame.top,
    right: frame.left + frame.width - plot.x1,
    bottom: frame.top + frame.height - plot.y1 - X_AXIS_H,
    left: 0,
  };
  const yAxisWidth = plot.x0 - frame.left;
  const data = toXY(points);
  const fitData = fitRange.map((x) => ({ x, y: fit.intercept + fit.slope * x }));
  const diagData = diagRange.map((v) => ({ x: v, y: v }));
  const xTick = (p: any) => (
    <SText x={p.x} y={p.y + 28.5} anchor="middle" size={TICK_FS} fill="#4d4d4d">{fmt(p.payload.value)}</SText>
  );
  const yTick = (p: any) => (
    <SText x={p.x - 13} y={p.y + 6.3} anchor="end" size={TICK_FS} fill="#4d4d4d">{fmt(p.payload.value)}</SText>
  );
  return (
    <div style={{ position: 'absolute', left: frame.left, top: frame.top }}>
      <ScatterChart width={frame.width} height={frame.height} margin={margin}>
        <CartesianGrid stroke="#e9e9e9" strokeWidth={0.8} verticalValues={xMinor} horizontalValues={yMinor} />
        <CartesianGrid stroke="#e6e6e6" strokeWidth={1.5} verticalValues={xTicks} horizontalValues={yTicks} />
        <XAxis type="number" dataKey="x" domain={xDomain} allowDataOverflow ticks={xTicks} interval={0}
          tickLine={false} axisLine={false} tickSize={0} tickMargin={0} height={X_AXIS_H} tick={xTick} />
        <YAxis type="number" dataKey="y" domain={yDomain} allowDataOverflow ticks={yTicks} interval={0}
          tickLine={false} axisLine={false} tickSize={0} tickMargin={0} width={yAxisWidth} tick={yTick} />
        {band !== undefined && (
          <ReferenceArea x1={-band} x2={band} fill="#000" fillOpacity={0.075} stroke="none" ifOverflow="visible" />
        )}
        {band !== undefined && (
          <ReferenceArea y1={-band} y2={band} fill="#000" fillOpacity={0.075} stroke="none" ifOverflow="visible" />
        )}
        <Scatter data={data} shape={Dot} isAnimationActive={false} />
        <Scatter data={fitData} fill="none" shape={NoShape} line={{ stroke: '#000', strokeWidth: 1.7 }} isAnimationActive={false} />
        <Scatter data={diagData} fill="none" shape={NoShape}
          line={{ stroke: '#000', strokeWidth: 2.7, strokeDasharray: '15 10' }} isAnimationActive={false} />
        <ReferenceArea x1={xDomain[0]} x2={xDomain[1]} y1={yDomain[0]} y2={yDomain[1]} fill="none"
          stroke="#333" strokeWidth={1.1} ifOverflow="visible" />
      </ScatterChart>
    </div>
  );
}

function zoomPolygon(leftPlot: Rect, rightPlot: Rect, yDomain: [number, number], half: number) {
  const toY = (v: number) => rightPlot.y0 + ((yDomain[1] - v) / (yDomain[1] - yDomain[0])) * (rightPlot.y1 - rightPlot.y0);
  return `${leftPlot.x1},${leftPlot.y0} ${rightPlot.x0},${toY(half)} ${rightPlot.x0},${toY(-half)} ${leftPlot.x1},${leftPlot.y1}`;
}

const fmtZoom = (v: number) => v.toFixed(1);
const fmtFull = (v: number) => String(v);

function FitLabel(props: any) {
  const { x, y, w, h, fit } = props;
  const sign = fit.intercept < 0 ? '-' : '+';
  return (
    <g>
      <rect x={x} y={y} width={w} height={h} rx={5} ry={5} fill="#fff" fillOpacity={0.82} stroke="#222" strokeWidth={0.9} />
      <SText x={x + 9} y={y + 24} size={16.5}>
        pseudo-R<tspan dy={-7} fontSize={11.5}>2</tspan><tspan dy={7}> = {fit.r2}</tspan>
      </SText>
      <SText x={x + 9} y={y + 45.5} size={16.5}>
        {`Regression: y = ${sign}${Math.abs(fit.intercept).toFixed(2)} + ${fit.slope.toFixed(2)} * x`}
      </SText>
    </g>
  );
}

export default function App() {
  return (
    <div style={{ position: 'absolute', left: 0, top: 0, width: 874, height: 1198, overflow: 'hidden', background: '#fff', fontFamily: FONT }}>
      <svg width={874} height={1198} style={{ position: 'absolute', left: 0, top: 0 }}>
        <polygon points={zoomPolygon(aLeftPlot, aRightPlot, rawFullY, rawZoomHalf)} fill="#ebebeb" />
        <polygon points={zoomPolygon(bLeftPlot, bRightPlot, esyFullY, esyZoomHalf)} fill="#ebebeb" />
      </svg>

      <Panel frame={{ left: 0, top: 0, width: 440, height: 600 }} plot={aLeftPlot} xDomain={rawZoomDomain} yDomain={rawZoomDomain}
        xTicks={zoomTicks} xMinor={zoomMinor} yTicks={zoomTicks} yMinor={zoomMinor} fmt={fmtZoom}
        points={rawPoints} fit={rawFit} fitRange={rawFitRange} diagRange={rawDiagRange} />
      <Panel frame={{ left: 440, top: 0, width: 434, height: 600 }} plot={aRightPlot} xDomain={rawFullX} yDomain={rawFullY}
        xTicks={fullXTicks} xMinor={fullXMinor} yTicks={rawFullYTicks} yMinor={fullYMinor} fmt={fmtFull}
        points={rawPoints} fit={rawFit} fitRange={rawFitRange} diagRange={rawDiagRange} band={rawZoomHalf} />
      <Panel frame={{ left: 0, top: 620, width: 440, height: 578 }} plot={bLeftPlot} xDomain={esyZoomDomain} yDomain={esyZoomDomain}
        xTicks={zoomTicks} xMinor={zoomMinor} yTicks={zoomTicks} yMinor={zoomMinor} fmt={fmtZoom}
        points={esyPoints} fit={esyFit} fitRange={esyFitRange} diagRange={esyDiagRange} />
      <Panel frame={{ left: 440, top: 620, width: 434, height: 578 }} plot={bRightPlot} xDomain={esyFullX} yDomain={esyFullY}
        xTicks={fullXTicks} xMinor={fullXMinor} yTicks={esyFullYTicks} yMinor={fullYMinor} fmt={fmtFull}
        points={esyPoints} fit={esyFit} fitRange={esyFitRange} diagRange={esyDiagRange} band={esyZoomHalf} />

      <svg width={874} height={1198} style={{ position: 'absolute', left: 0, top: 0, pointerEvents: 'none' }}>
        <SText x={16} y={27} size={14.5} weight="bold">A</SText>
        <SText x={132} y={47} size={27}>Raw Inputs</SText>
        <SText x={32} y={295.5} rotate={-90} anchor="middle" size={25.5} stretch={1}>Predicted Daily Change in Water Level (cm)</SText>
        <SText x={483} y={581} anchor="middle" size={25.5} stretch={1}>Observed Daily Change in Water Level (cm)</SText>
        <FitLabel x={549} y={88} w={278} h={58} fit={rawFit} />

        <SText x={16} y={640} size={14.5} weight="bold">B</SText>
        <SText x={132} y={658} size={27}>
          E<tspan fontSize={19} dy={8}>Sy</tspan><tspan dy={-8}>-Adjusted Inputs</tspan>
        </SText>
        <SText x={32} y={911.5} rotate={-90} anchor="middle" size={25.5} stretch={1}>Predicted Daily Change in Water Level (cm)</SText>
        <SText x={483} y={1192} anchor="middle" size={25.5} stretch={1}>Observed Daily Change in Water Level (cm)</SText>
        <FitLabel x={553} y={707} w={278} h={57} fit={esyFit} />
      </svg>
    </div>
  );
}
